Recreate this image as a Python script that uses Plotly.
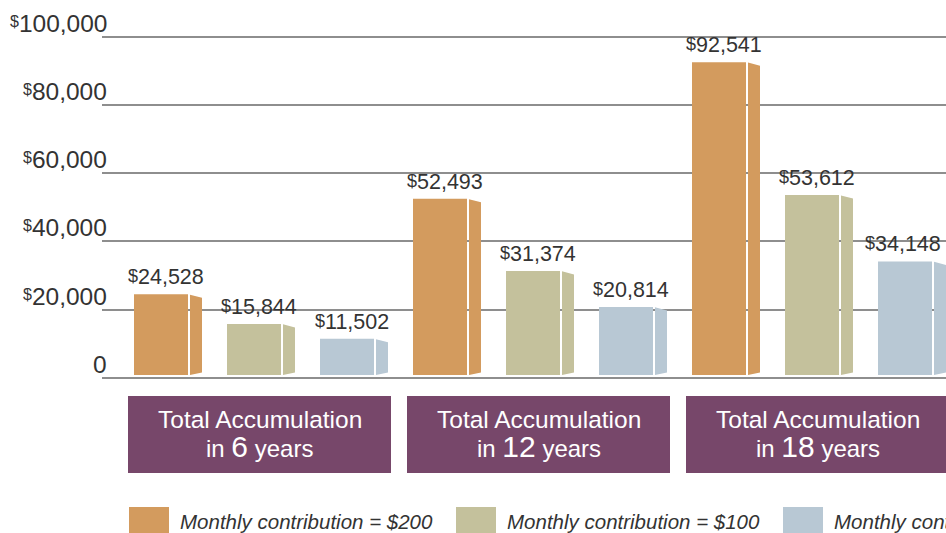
import plotly.graph_objects as go

# ---- data ----
periods = [6, 12, 18]
series_names = ["Monthly contribution = $200", "Monthly contribution = $100", "Monthly contribution = $50"]
values_200 = [24528, 52493, 92541]
values_100 = [15844, 31374, 53612]
values_50 = [11502, 20814, 34148]
y_ticks = [0, 20000, 40000, 60000, 80000, 100000]
y_tick_nums = ["0", "20,000", "40,000", "60,000", "80,000", "100,000"]

colors = ["#d39b5e", "#c4c19c", "#b8c8d4"]
box_color = "#77476a"
grid_color = "#8e8e8e"
text_color = "#333333"
FONT = "Liberation Sans, Arial, Helvetica, sans-serif"

W, H = 946, 533
ML = 102
SLOT = 93.0            # px per x unit
X_ORIGIN = 134.0       # px of x=0
Y_ZERO = 378.0         # px of y=0
PPU = 68.26 / 20000.0  # px per value unit

def xd(px):
    return (px - X_ORIGIN) / SLOT

def yp(py):
    return 1 - py / H

def dollar(num, size, shift):
    return f"<span style='font-size:{size}px;baseline-shift:{shift}px'>$</span>{num}"

y_max = Y_ZERO / PPU
y_min = -(H - Y_ZERO) / PPU

all_series = [values_200, values_100, values_50]
n_series = len(all_series)

fig = go.Figure()
FRONT_W = 54 / SLOT
SIDE_X0 = 56 / SLOT
SIDE_X1 = 68 / SLOT
BASE = 3 / PPU
SLANT_T = 3.5 / PPU
SLANT_B = 2.5 / PPU

shapes = []
annotations = []
last_x = (len(periods) - 1) * n_series + (n_series - 1)
for j, vals in enumerate(all_series):
    xs = [i * n_series + j for i in range(len(periods))]
    fig.add_trace(go.Bar(
        x=xs, y=[v - BASE for v in vals], base=BASE, width=FRONT_W, offset=0,
        marker=dict(color=colors[j], line=dict(width=0)), name=series_names[j],
        showlegend=False, hoverinfo="skip"))
    for x, v in zip(xs, vals):
        path = (f"M {x + SIDE_X0},{v - 0.4 / PPU} L {x + SIDE_X1},{v - SLANT_T} "
                f"L {x + SIDE_X1},{BASE + SLANT_B} L {x + SIDE_X0},{BASE} Z")
        shapes.append(dict(type="path", path=path, xref="x", yref="y",
                           fillcolor=colors[j], line=dict(width=0), layer="above"))
        if x == last_x:
            lx, anchor = xd(W - 3), "right"   # keep the label inside the cropped edge
        else:
            lx, anchor = x + 32 / SLOT, "center"
        annotations.append(dict(
            x=lx, y=v, xref="x", yref="y", yanchor="bottom", xanchor=anchor,
            yshift=3, showarrow=False,
            text=dollar(f"{v:,}", 18, 2),
            font=dict(family=FONT, size=21.5, color=text_color)))

# y-axis labels sitting above each gridline
for t, num in zip(y_ticks, y_tick_nums):
    lab = num if t == 0 else dollar(num, 16, 5)
    annotations.append(dict(
        x=0, y=t, xref="paper", yref="y", xanchor="right", yanchor="bottom",
        xshift=7, yshift=-2, showarrow=False, text=lab,
        font=dict(family=FONT, size=24.5, color=text_color)))

# category boxes
for i, p in enumerate(periods):
    x0 = i * n_series + xd(128)
    x1 = i * n_series + xd(391)
    shapes.append(dict(type="rect", xref="x", yref="paper", x0=x0, x1=x1,
                       y0=yp(473), y1=yp(396), fillcolor=box_color, line=dict(width=0)))
    xc = (x0 + x1) / 2
    annotations.append(dict(x=xc, y=yp(419), xref="x", yref="paper", xanchor="center",
                            yanchor="middle", showarrow=False, text="Total Accumulation",
                            font=dict(family=FONT, size=24.5, color="white")))
    annotations.append(dict(x=xc, y=yp(446), xref="x", yref="paper", xanchor="center",
                            yanchor="middle", showarrow=False,
                            text=f"in <span style='font-size:30px'>{p}</span> years",
                            font=dict(family=FONT, size=24, color="white")))

# custom legend
for j, name in enumerate(series_names):
    sx = 129 + 327 * j
    shapes.append(dict(type="rect", xref="x", yref="paper", x0=xd(sx), x1=xd(sx + 40),
                       y0=yp(534), y1=yp(507), fillcolor=colors[j], line=dict(width=0)))
    annotations.append(dict(x=xd(sx + 49), y=yp(521), xref="x", yref="paper",
                            xanchor="left", yanchor="middle", showarrow=False,
                            text=f"<i>{name}</i>",
                            font=dict(family=FONT, size=20.5, color=text_color)))

fig.update_layout(
    width=W, height=H,
    margin=dict(l=ML, r=0, t=0, b=0, pad=0),
    paper_bgcolor="white", plot_bgcolor="white",
    barmode="overlay",
    showlegend=False,
    xaxis=dict(range=[xd(ML), xd(W)], visible=False, fixedrange=True),
    yaxis=dict(range=[y_min, y_max], tickvals=y_ticks, showticklabels=False,
               showgrid=True, gridcolor=grid_color, gridwidth=2, zeroline=False,
               ticks="", fixedrange=True),
    shapes=shapes,
    annotations=annotations,
)

fig.write_html("out.html", config={"displayModeBar": False},
               post_script="document.body.style.margin='0px';document.body.style.overflow='hidden';")
